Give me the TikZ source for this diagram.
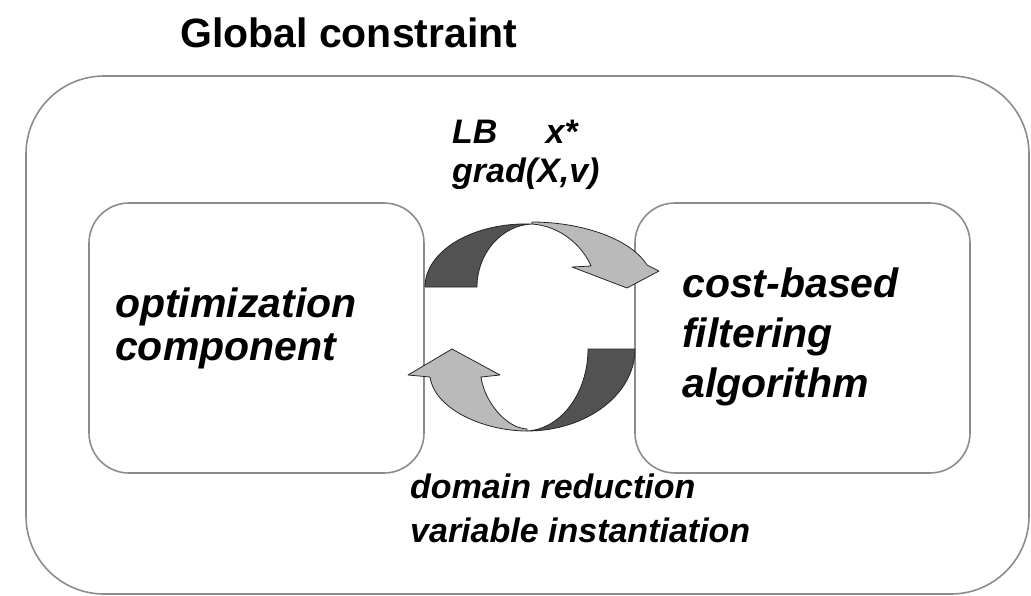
\documentclass[tikz,border=0pt]{standalone}
\usepackage{fontspec}
\setmainfont{Liberation Sans}
\begin{document}
\begin{tikzpicture}[x=1pt,y=-1pt,
  frame/.style={draw=black!45, line width=1.6pt, inner sep=0pt},
  title/.style={anchor=base west, inner sep=0pt, font=\fontsize{41}{48}\selectfont\bfseries},
  boxtext/.style={anchor=base west, inner sep=0pt, font=\fontsize{41}{48}\selectfont\bfseries\itshape},
  flowtext/.style={anchor=base west, inner sep=0pt, font=\fontsize{34}{40}\selectfont\bfseries\itshape},
  backband/.style={fill=black!68, draw=black!85, line width=0.8pt, line join=round},
  frontband/.style={fill=black!27, draw=black!85, line width=0.8pt, line join=round}]
\useasboundingbox (0,0) rectangle (1031,595);

% enclosing global constraint
\node[frame, rounded corners=78pt, minimum width=1003pt, minimum height=518pt] (global) at (527.5,335) {};
\node[title] (gtitle) at (180,47) {Global constraint};

% the two components
\node[frame, rounded corners=40pt, minimum width=335pt, minimum height=270pt] (opt) at (256.5,338) {};
\node[frame, rounded corners=40pt, minimum width=335pt, minimum height=270pt] (filt) at (802.5,338) {};

\node[boxtext] (opt1) at (115,317) {optimization};
\node[boxtext] (opt2) at (115,360) {component};
\node[boxtext] (filt1) at (682,297) {cost-based};
\node[boxtext] (filt2) at (682,347) {filtering};
\node[boxtext] (filt3) at (682,397) {algorithm};

% upper curved arrow: optimization -> filtering
\path[backband] (425,287) -- (477,287)
  .. controls (477,253) and (502,225) .. (532,224)
  .. controls (473,222) and (425,251) .. (425,287) -- cycle;
\path[frontband] (532,222)
  .. controls (580,222) and (630,238) .. (647,265)
  -- (659,271) -- (627,288) -- (572,267) -- (591,266)
  .. controls (582,245) and (560,226) .. (532,224) -- cycle;

% lower curved arrow: filtering -> optimization
\path[backband] (588,349) -- (635,349)
  .. controls (635,394) and (587,431) .. (527,431)
  .. controls (561,429) and (588,393) .. (588,349) -- cycle;
\path[frontband] (527,431)
  .. controls (485,431) and (435,410) .. (430,377)
  -- (408,375) -- (452,349) -- (500,375) -- (481,377)
  .. controls (484,400) and (505,428) .. (527,429) -- cycle;

% exchanged information
\node[flowtext] (lb) at (452,143) {LB\hspace{48pt}x*};
\node[flowtext] (grad) at (452,182) {grad(X,v)};
\node[flowtext] (dom) at (410,498) {domain reduction};
\node[flowtext] (inst) at (410,542) {variable instantiation};
\end{tikzpicture}
\end{document}
